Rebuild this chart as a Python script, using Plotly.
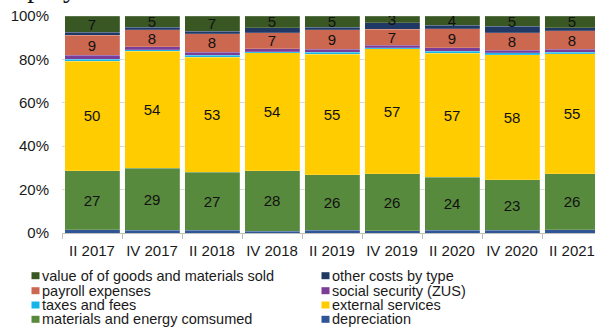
import plotly.graph_objects as go

# Quarterly periods on the category axis
periods = ["II 2017", "IV 2017", "II 2018", "IV 2018", "II 2019",
           "IV 2019", "II 2020", "IV 2020", "II 2021"]

# Share of each cost type in total costs (%), stacked bottom to top
depreciation = [1.4, 1.2, 1.2, 0.7, 1.2, 1.0, 1.2, 1.2, 1.6]
materials_energy = [27.4, 28.7, 26.7, 28.1, 25.7, 26.4, 24.4, 23.4, 25.7]
external_services = [50.4, 53.9, 53.2, 54.2, 55.4, 57.4, 57.3, 57.6, 55.3]
taxes_fees = [0.9, 0.6, 0.9, 0.6, 0.9, 0.6, 0.9, 0.9, 0.6]
social_security = [1.7, 1.5, 1.4, 1.2, 1.5, 1.2, 1.5, 1.2, 1.5]
payroll = [9.3, 7.7, 8.4, 7.4, 8.9, 7.4, 8.9, 8.0, 8.4]
other_costs = [1.5, 1.2, 1.2, 2.5, 1.3, 2.8, 1.5, 3.0, 1.6]
goods_sold = [7.4, 5.2, 7.0, 5.3, 5.1, 3.2, 4.3, 4.7, 5.3]

y_ticks = [0, 20, 40, 60, 80, 100]

# (name, values, colour, labelled)
series = [
    ("depreciation", depreciation, "#2F5597", False),
    ("materials and energy comsumed", materials_energy, "#588A3D", True),
    ("external services", external_services, "#FFCC00", True),
    ("taxes and fees", taxes_fees, "#17B4EA", False),
    ("social security (ZUS)", social_security, "#7B3D97", False),
    ("payroll expenses", payroll, "#CD6850", True),
    ("other costs by type", other_costs, "#1F3864", False),
    ("value of of goods and materials sold", goods_sold, "#385723", True),
]

FONT = "Liberation Sans, Arial, sans-serif"
W, H = 595, 327
ML, MR, MT, MB = 62, 0, 16, 94
PW, PH = W - ML - MR, H - MT - MB


def xp(px):
    return (px - ML) / PW


def yp(py):
    return (H - MB - py) / PH


fig = go.Figure()
for name, vals, color, labelled in series:
    fig.add_trace(go.Bar(
        x=periods, y=vals, name=name,
        marker=dict(color=color, line=dict(color="rgba(255,255,255,0.35)", width=0.5)),
        texttemplate="%{y:.0f}" if labelled else None,
        textposition="inside" if labelled else "none",
        insidetextanchor="middle",
        textangle=0,
        constraintext="none",
        textfont=dict(family=FONT, size=15, color="#111111"),
        showlegend=False,
        hoverinfo="skip",
    ))

# Legend drawn as two columns of swatches and labels
legend_order = [
    "value of of goods and materials sold", "other costs by type",
    "payroll expenses", "social security (ZUS)",
    "taxes and fees", "external services",
    "materials and energy comsumed", "depreciation",
]
colors = {s[0]: s[2] for s in series}
row_y = [275.7, 290.7, 305.0, 319.3]
col_x = [31.5, 321.5]
shapes = []
annotations = []
for i, name in enumerate(legend_order):
    r, c = divmod(i, 2)
    cy = row_y[r]
    x0 = col_x[c]
    shapes.append(dict(type="rect", xref="paper", yref="paper",
                       x0=xp(x0), x1=xp(x0 + 8), y0=yp(cy + 3.5), y1=yp(cy - 3.5),
                       fillcolor=colors[name], line=dict(width=0)))
    annotations.append(dict(text=name, xref="paper", yref="paper",
                            x=xp(x0 + 9), y=yp(cy), xanchor="left", yanchor="middle",
                            borderpad=0,
                            showarrow=False,
                            font=dict(family=FONT, size=14.5, color="#1a1a1a")))

# Heading line above the plot, clipped by the top edge
annotations.append(dict(text="employees", xref="paper", yref="paper",
                        x=xp(-9), y=yp(5), xanchor="left", yanchor="bottom",
                        showarrow=False,
                        font=dict(family="Liberation Serif, Times New Roman, serif",
                                  size=28, color="#111111")))

fig.update_layout(
    width=W, height=H,
    margin=dict(l=ML, r=MR, t=MT, b=MB, pad=0),
    barmode="stack",
    bargap=5 / 60,
    paper_bgcolor="white",
    plot_bgcolor="white",
    shapes=shapes,
    annotations=annotations,
    font=dict(family=FONT, color="#1a1a1a"),
)
fig.update_xaxes(
    type="category",
    range=[-0.5, -0.5 + PW / 60],
    showline=True, linecolor="#BFBFBF", linewidth=1,
    ticks="outside", tickson="boundaries", ticklen=5, tickcolor="#BFBFBF",
    showgrid=False,
    tickangle=0,
    ticklabelstandoff=4,
    tickfont=dict(family=FONT, size=15, color="#1a1a1a"),
)
fig.update_yaxes(
    range=[0, 100],
    tickvals=y_ticks,
    ticktext=[f"{v}%" for v in y_ticks],
    showgrid=True, gridcolor="#D9D9D9", gridwidth=1,
    zeroline=False,
    showline=False,
    ticks="",
    ticklabelstandoff=12,
    tickfont=dict(family=FONT, size=15, color="#1a1a1a"),
)

fig.write_html("out.html")
